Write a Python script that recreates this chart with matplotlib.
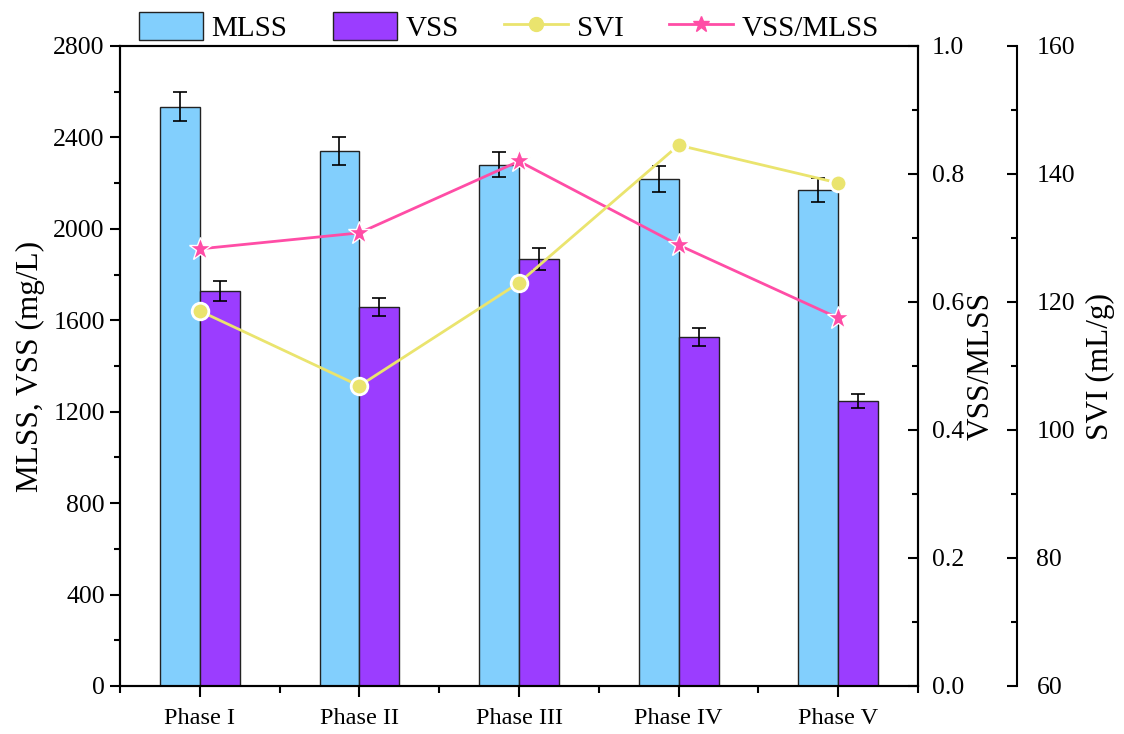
import matplotlib
matplotlib.use("Agg")
import matplotlib.pyplot as plt
import numpy as np
from matplotlib.ticker import MultipleLocator, FormatStrFormatter
from matplotlib.patches import Patch
from matplotlib.lines import Line2D

phases = ["Phase I", "Phase II", "Phase III", "Phase IV", "Phase V"]
mlss = [2535, 2340, 2280, 2218, 2170]
mlss_err = [62, 60, 55, 57, 52]
vss = [1728, 1658, 1868, 1527, 1247]
vss_err = [44, 40, 47, 38, 30]
ratio = [0.683, 0.708, 0.820, 0.689, 0.575]
svi = [118.6, 106.9, 123.0, 144.5, 138.6]

plt.rcParams['font.family'] = ['Liberation Serif', 'DejaVu Serif']
plt.rcParams['axes.linewidth'] = 1.5

fig = plt.figure(figsize=(11.24, 7.34), dpi=100)
ax = fig.add_axes([120/1124, 48/734, 798/1124, 640/734])

x = np.arange(len(phases))
w = 0.25
c_mlss = '#82CFFD'
c_vss = '#9B3DFF'
c_svi = '#EAE46E'
c_ratio = '#FF4DA6'

ax.bar(x - w/2, mlss, w, color=c_mlss, edgecolor='#222222', linewidth=1.0, zorder=2)
ax.bar(x + w/2, vss, w, color=c_vss, edgecolor='#222222', linewidth=1.0, zorder=2)
ax.errorbar(x - w/2, mlss, yerr=mlss_err, fmt='none', ecolor='black', elinewidth=1.2, capsize=5, capthick=1.2, zorder=3)
ax.errorbar(x + w/2, vss, yerr=vss_err, fmt='none', ecolor='black', elinewidth=1.2, capsize=5, capthick=1.2, zorder=3)

ax.set_xlim(-0.5, 4.5)
ax.set_ylim(0, 2800)
ax.yaxis.set_major_locator(MultipleLocator(400))
ax.yaxis.set_minor_locator(MultipleLocator(200))
ax.set_xticks(x)
ax.set_xticklabels(phases, fontsize=17.5)
ax.set_xticks(np.arange(-0.5, 4.6, 1.0), minor=True)
ax.tick_params(axis='x', which='major', direction='out', length=8, width=1.5, pad=8)
ax.tick_params(axis='x', which='minor', direction='out', length=5, width=1.5)
ax.tick_params(axis='y', which='major', direction='out', length=7, width=1.5, labelsize=18.5, pad=4)
ax.tick_params(axis='y', which='minor', direction='out', length=4, width=1.5)
ax.set_ylabel('MLSS, VSS (mg/L)', fontsize=22.5, labelpad=6)

# ratio axis
ax2 = ax.twinx()
ax2.set_ylim(0, 1.0)
ax2.yaxis.set_major_locator(MultipleLocator(0.2))
ax2.yaxis.set_minor_locator(MultipleLocator(0.1))
ax2.yaxis.set_major_formatter(FormatStrFormatter('%.1f'))
ax2.tick_params(axis='y', which='major', direction='in', length=7, width=1.5, labelsize=18.5, pad=10)
ax2.tick_params(axis='y', which='minor', direction='in', length=4, width=1.5)
ax2.set_ylabel('VSS/MLSS', fontsize=22.5, labelpad=2)
ax2.spines['right'].set_linewidth(1.5)

# SVI axis
ax3 = ax.twinx()
ax3.spines['right'].set_position(('axes', (1017-120)/798))
ax3.spines['right'].set_linewidth(1.5)
for s in ['top', 'left', 'bottom']:
    ax3.spines[s].set_visible(False)
ax3.set_ylim(60, 160)
ax3.yaxis.set_major_locator(MultipleLocator(20))
ax3.yaxis.set_minor_locator(MultipleLocator(10))
ax3.tick_params(axis='y', which='major', direction='in', length=7, width=1.5, labelsize=18.5, pad=14)
ax3.tick_params(axis='y', which='minor', direction='in', length=4, width=1.5)
ax3.set_ylabel('SVI (mL/g)', fontsize=22.5, labelpad=8)

ax3.plot(x, svi, color=c_svi, linewidth=2.0, marker='o', markersize=12,
         markerfacecolor=c_svi, markeredgecolor='white', markeredgewidth=2, zorder=5)
ax2.plot(x, ratio, color=c_ratio, linewidth=2.0, marker='*', markersize=17,
         markerfacecolor=c_ratio, markeredgecolor='white', markeredgewidth=1.0, zorder=5)

handles = [
    Patch(facecolor=c_mlss, edgecolor='#222222', linewidth=1.0),
    Patch(facecolor=c_vss, edgecolor='#222222', linewidth=1.0),
    Line2D([0], [0], color=c_svi, linewidth=2.0, marker='o', markersize=10, markerfacecolor=c_svi, markeredgecolor=c_svi),
    Line2D([0], [0], color=c_ratio, linewidth=2.0, marker='*', markersize=12, markerfacecolor=c_ratio, markeredgecolor=c_ratio),
]
labels = ['MLSS', 'VSS', 'SVI', 'VSS/MLSS']
fig.legend(handles, labels, loc='center', bbox_to_anchor=(509/1124, 1 - 27/734), ncol=4,
           frameon=False, fontsize=21, handlelength=2.2, handleheight=1.1, columnspacing=1.55,
           handletextpad=0.3, borderaxespad=0, borderpad=0)

fig.savefig('out.png', dpi=100)
